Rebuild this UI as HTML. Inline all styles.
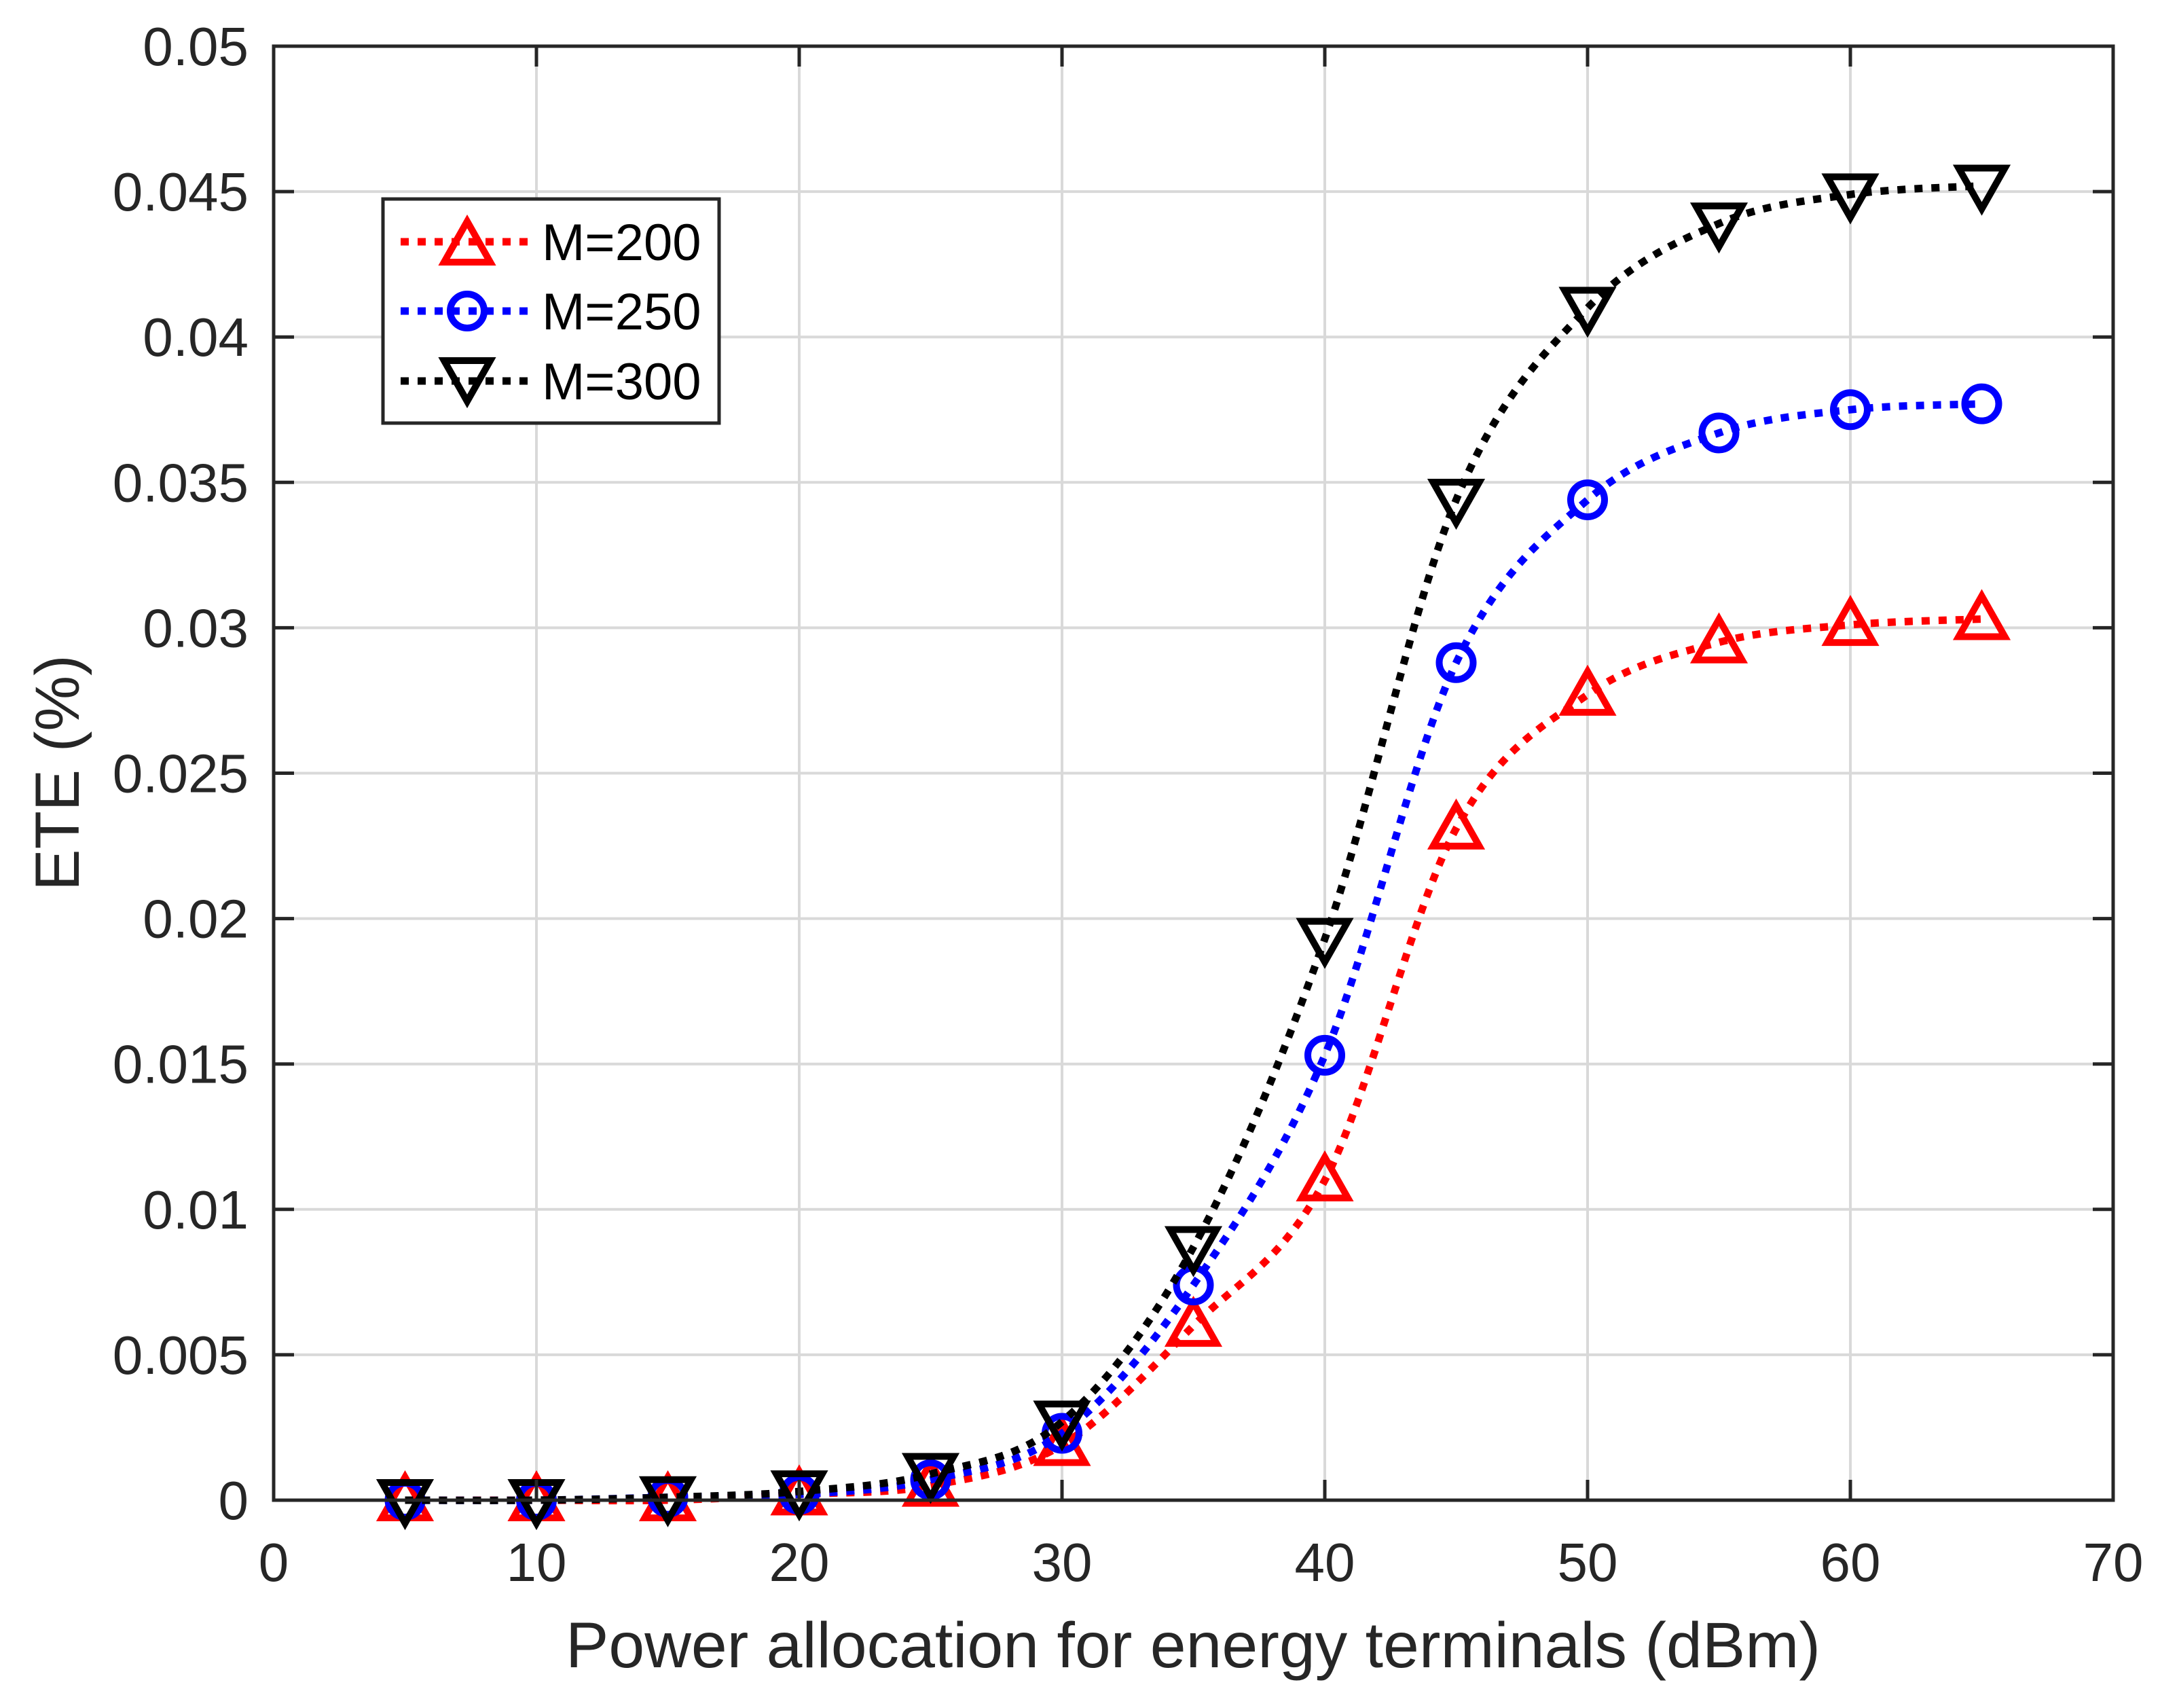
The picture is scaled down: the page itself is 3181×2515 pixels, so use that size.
<!DOCTYPE html>
<html><head><meta charset="utf-8"><style>
html,body{margin:0;padding:0;background:#fff;}
svg{display:block;font-family:"Liberation Sans",Arial,sans-serif;}
</style></head><body>
<svg id="chart" width="3181" height="2515" viewBox="0 0 3181 2515" xmlns="http://www.w3.org/2000/svg">
<rect width="3181" height="2515" fill="#fff"/>
<g id="grid"></g>
<g id="series"></g>
<g id="axes"></g>
<g id="legend"></g>
</svg>
<script>
const xValues = [5,10,15,20,25,30,35,40,45,50,55,60,65];
const seriesM200 = [0,0,0,0.0002,0.0005,0.0019,0.006,0.011,0.0231,0.0277,0.0295,0.0301,0.0303];
const seriesM250 = [0,0,0.0001,0.0002,0.0007,0.0023,0.0074,0.0153,0.0288,0.0344,0.0367,0.0375,0.0377];
const seriesM300 = [0,0,0.0001,0.0003,0.0009,0.0027,0.0087,0.0193,0.0344,0.0410,0.0439,0.0449,0.0452];
const xTicks = [0,10,20,30,40,50,60,70];
const yTicks = [0,0.005,0.01,0.015,0.02,0.025,0.03,0.035,0.04,0.045,0.05];
const yTickLabels = ["0","0.005","0.01","0.015","0.02","0.025","0.03","0.035","0.04","0.045","0.05"];
const seriesNames = ["M=200","M=250","M=300"];

const NS="http://www.w3.org/2000/svg";
const L=403,R=3112,T=68,B=2209;
const sx=v=>L+(v-0)/(70-0)*(R-L);
const sy=v=>B-(v-0)/(0.05-0)*(B-T);
function mk(tag,attrs,parent){const e=document.createElementNS(NS,tag);for(const k in attrs)e.setAttribute(k,attrs[k]);parent.appendChild(e);return e;}
const grid=document.getElementById('grid'),axes=document.getElementById('axes'),ser=document.getElementById('series'),leg=document.getElementById('legend');

xTicks.forEach(t=>{
  const g=mk('line',{x1:sx(t),x2:sx(t),y1:T,y2:B,stroke:'#d9d9d9','stroke-width':4},grid);
  
  
  mk('line',{x1:sx(t),x2:sx(t),y1:B,y2:B-30,stroke:'#262626','stroke-width':5},axes);
  mk('line',{x1:sx(t),x2:sx(t),y1:T,y2:T+30,stroke:'#262626','stroke-width':5},axes);
  const tx=mk('text',{x:sx(t),y:2328,'text-anchor':'middle','font-size':80,fill:'#262626'},axes);
  tx.textContent=t;
  
  
});
yTicks.forEach((t,i)=>{
  const g=mk('line',{x1:L,x2:R,y1:sy(t),y2:sy(t),stroke:'#d9d9d9','stroke-width':4},grid);
  
  
  mk('line',{x1:L,x2:L+30,y1:sy(t),y2:sy(t),stroke:'#262626','stroke-width':5},axes);
  mk('line',{x1:R,x2:R-30,y1:sy(t),y2:sy(t),stroke:'#262626','stroke-width':5},axes);
  const tx=mk('text',{x:366,y:sy(t)+28,'text-anchor':'end','font-size':80,fill:'#262626'},axes);
  tx.textContent=yTickLabels[i];
  
  
});
const frame=mk('rect',{x:L,y:T,width:R-L,height:B-T,fill:'none',stroke:'#262626','stroke-width':5},axes);


const xl=mk('text',{x:1757,y:2455,'text-anchor':'middle','font-size':95,fill:'#262626'},axes);
xl.textContent='Power allocation for energy terminals (dBm)';


const yl=mk('text',{x:0,y:0,'text-anchor':'middle','font-size':92,fill:'#262626',transform:'translate(116,1138) rotate(-90)'},axes);
yl.textContent='ETE (%)';



function pathFor(ys){
  const p=xValues.map((x,i)=>[sx(x),sy(ys[i])]);
  let d=`M${p[0][0]},${p[0][1]}`;
  for(let i=0;i<p.length-1;i++){
    const p0=p[Math.max(0,i-1)],p1=p[i],p2=p[i+1],p3=p[Math.min(p.length-1,i+2)];
    const c1=[p1[0]+(p2[0]-p0[0])/6,p1[1]+(p2[1]-p0[1])/6];
    const c2=[p2[0]-(p3[0]-p1[0])/6,p2[1]-(p3[1]-p1[1])/6];
    d+=` C${c1[0]},${c1[1]} ${c2[0]},${c2[1]} ${p2[0]},${p2[1]}`;
  }
  return d;
}
function marker(type,cx,cy,color,parent){
  let e;
  if(type==='tri') e=mk('path',{d:`M${cx},${cy-34} L${cx+34},${cy+26} L${cx-34},${cy+26} Z`,fill:'none',stroke:color,'stroke-width':10},parent);
  else if(type==='circ') e=mk('circle',{cx:cx,cy:cy,r:25,fill:'none',stroke:color,'stroke-width':10},parent);
  else e=mk('path',{d:`M${cx-34},${cy-26} L${cx+34},${cy-26} L${cx},${cy+34} Z`,fill:'none',stroke:color,'stroke-width':10},parent);
  return e;
}
const defs=[[seriesM200,'#ff0000','tri','series-m200'],[seriesM250,'#0000ff','circ','series-m250'],[seriesM300,'#000000','dtri','series-m300']];
defs.forEach(([ys,c,m,name])=>{
  const g=mk('g',{},ser);
  
  
  const ln=mk('path',{d:pathFor(ys),fill:'none',stroke:c,'stroke-width':11,'stroke-dasharray':'12 13'},g);
  
  
  ys.forEach((v,i)=>{
    const mm=marker(m,sx(xValues[i]),sy(v),c,g);
    
    
  });
});

const lb=mk('rect',{x:564,y:293,width:495,height:330,fill:'#fff',stroke:'#262626','stroke-width':5},leg);


const ly=[356,458,561];
defs.forEach(([ys,c,m,name],i)=>{
  const g=mk('g',{},leg);
  
  
  mk('line',{x1:590,x2:778,y1:ly[i],y2:ly[i],stroke:c,'stroke-width':11,'stroke-dasharray':'12 13'},g);
  marker(m,688,ly[i]+(m==='tri'?4:m==='dtri'?-4:0),c,g);
  const t=mk('text',{x:798,y:ly[i]+27,'font-size':76,fill:'#000'},g);
  t.textContent=seriesNames[i];
});
</script>
</body></html>
